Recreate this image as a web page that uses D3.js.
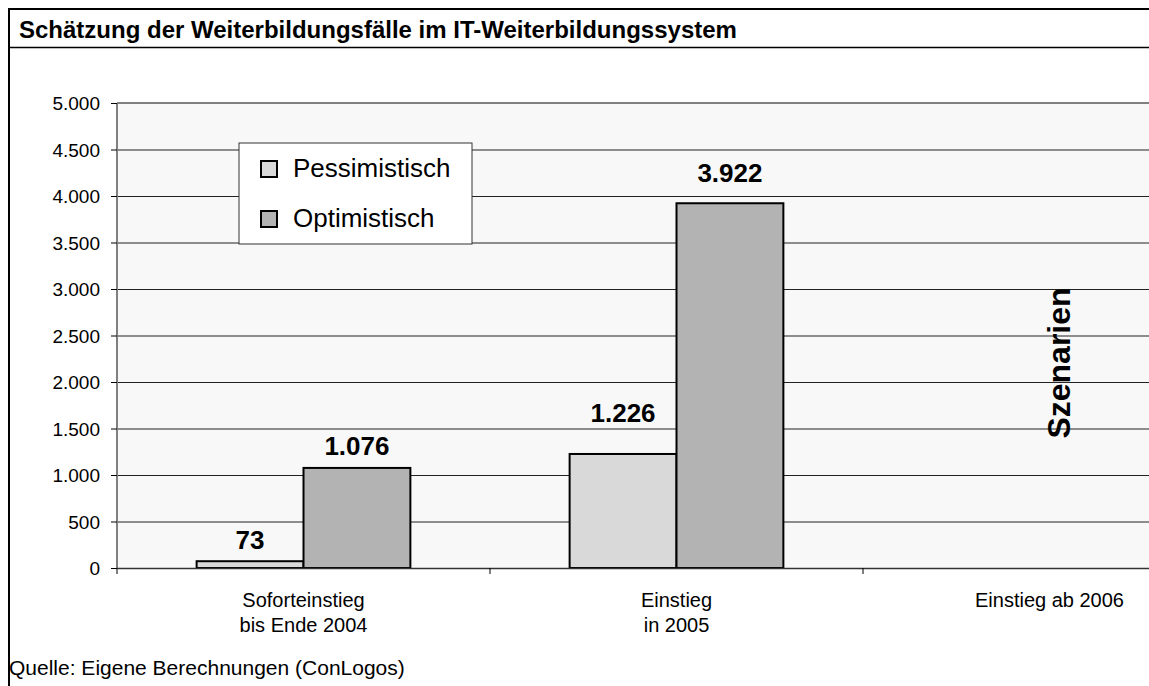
<!DOCTYPE html>
<html>
<head>
<meta charset="utf-8">
<script src="https://cdn.jsdelivr.net/npm/d3@7"></script>
<style>
  body { margin: 0; background: #fff; }
  text { font-family: "Liberation Sans", Arial, sans-serif; fill: #000; }
</style>
</head>
<body>
<div id="vis"></div>
<script>
var width = 1149;
var height = 686;

// chart data
var categories = ['Sofort', '2005', '2006'];
var categoryLabels = [['Soforteinstieg', 'bis Ende 2004'], ['Einstieg', 'in 2005'], ['Einstieg ab 2006']];
var seriesNames = ['Pessimistisch', 'Optimistisch'];
var pessimistisch = [73, 1226, null];
var optimistisch = [1076, 3922, null];
var yTicks = [0, 500, 1000, 1500, 2000, 2500, 3000, 3500, 4000, 4500, 5000];
var seriesColors = ['#d9d9d9', '#b3b3b3'];

// labels were placed by hand in the original, so lift each one a bit differently
var labelLift = [[12, 13], [32, 21], [0, 0]];

var plot = { left: 117, top: 103, bottom: 568, right: 1236 };

var svg = d3.select('#vis')
    .append('svg')
    .attr('width', width)
    .attr('height', height);

// frame round the title
svg.append('line').attr('x1', 8).attr('x2', width).attr('y1', 9).attr('y2', 9)
    .attr('stroke', '#000').attr('stroke-width', 2);
svg.append('line').attr('x1', 8).attr('x2', width).attr('y1', 47.5).attr('y2', 47.5)
    .attr('stroke', '#000').attr('stroke-width', 1.5);
svg.append('line').attr('x1', 9).attr('x2', 9).attr('y1', 8).attr('y2', height)
    .attr('stroke', '#000').attr('stroke-width', 2);

svg.append('text')
    .attr('x', 19).attr('y', 38)
    .style('font-size', '24px').style('font-weight', 'bold')
    .text('Schätzung der Weiterbildungsfälle im IT-Weiterbildungssystem');

var y = d3.scaleLinear().domain([0, 5000]).range([plot.bottom, plot.top]);
var x0 = d3.scaleBand().domain(categories).range([plot.left, plot.right]).padding(0);
var x1 = d3.scaleBand().domain(seriesNames).range([0, x0.bandwidth()]).paddingInner(0).paddingOuter(0.745);

// plot background
svg.append('rect')
    .attr('x', plot.left).attr('y', plot.top)
    .attr('width', plot.right - plot.left).attr('height', plot.bottom - plot.top)
    .attr('fill', '#f8f8f8');

// gridlines
svg.append('g').selectAll('line')
    .data(yTicks.filter(function (d) { return d > 0 && d < 5000; }))
    .enter().append('line')
    .attr('x1', plot.left).attr('x2', plot.right)
    .attr('y1', function (d) { return y(d) + 0.5; })
    .attr('y2', function (d) { return y(d) + 0.5; })
    .attr('stroke', '#222').attr('stroke-width', 1);

svg.append('line')
    .attr('x1', plot.left).attr('x2', plot.right)
    .attr('y1', plot.top).attr('y2', plot.top)
    .attr('stroke', '#808080').attr('stroke-width', 2);

// bars
var rows = categories.map(function (c, i) {
    return { cat: c, idx: i, values: [pessimistisch[i], optimistisch[i]] };
});
var groups = svg.append('g').selectAll('g')
    .data(rows)
    .enter().append('g')
    .attr('transform', function (d) { return 'translate(' + x0(d.cat) + ',0)'; });

function barData(d) {
    return d.values.map(function (v, j) {
        return { name: seriesNames[j], value: v, idx: j, lift: labelLift[d.idx][j] };
    }).filter(function (e) { return e.value !== null; });
}

groups.selectAll('rect')
    .data(barData)
    .enter().append('rect')
    .attr('x', function (d) { return x1(d.name); })
    .attr('y', function (d) { return y(d.value); })
    .attr('width', x1.bandwidth())
    .attr('height', function (d) { return y(0) - y(d.value); })
    .attr('fill', function (d) { return seriesColors[d.idx]; })
    .attr('stroke', '#000').attr('stroke-width', 2);

groups.selectAll('text.val')
    .data(barData)
    .enter().append('text')
    .attr('class', 'val')
    .attr('x', function (d) { return x1(d.name) + x1.bandwidth() / 2; })
    .attr('y', function (d) { return y(d.value) - d.lift; })
    .attr('text-anchor', 'middle')
    .style('font-size', '26px').style('font-weight', 'bold')
    .text(function (d) { return d3.format(',')(d.value).replace(/,/g, '.'); });

// y axis
var yAxis = svg.append('g')
    .attr('transform', 'translate(' + plot.left + ',0)')
    .call(d3.axisLeft(y).tickValues(yTicks).tickSize(6).tickPadding(11)
        .tickFormat(function (d) { return d3.format(',')(d).replace(/,/g, '.'); }));
yAxis.select('.domain').attr('stroke', '#808080').attr('stroke-width', 2).attr('d', 'M0,' + plot.top + 'V' + (plot.bottom + 6));
yAxis.selectAll('.tick line').attr('stroke', '#000');
yAxis.selectAll('.tick text').style('font-size', '19px').attr('dy', '0.36em')
    .style('font-family', '"Liberation Sans", Arial, sans-serif').attr('fill', '#000');

// x axis line and ticks
svg.append('line')
    .attr('x1', plot.left).attr('x2', plot.right)
    .attr('y1', plot.bottom + 0.5).attr('y2', plot.bottom + 0.5)
    .attr('stroke', '#333').attr('stroke-width', 1.5);
svg.append('g').selectAll('line')
    .data(categories)
    .enter().append('line')
    .attr('x1', function (d) { return x0(d) + x0.bandwidth(); })
    .attr('x2', function (d) { return x0(d) + x0.bandwidth(); })
    .attr('y1', plot.bottom).attr('y2', plot.bottom + 6)
    .attr('stroke', '#000');

// category labels
var catText = svg.append('g').selectAll('text')
    .data(categories)
    .enter().append('text')
    .attr('x', function (d) { return x0(d) + x0.bandwidth() / 2; })
    .attr('y', 607)
    .attr('text-anchor', 'middle')
    .style('font-size', '20px');
catText.each(function (d, i) {
    var t = d3.select(this);
    categoryLabels[i].forEach(function (line, k) {
        t.append('tspan')
            .attr('x', x0(d) + x0.bandwidth() / 2)
            .attr('dy', k === 0 ? 0 : 25)
            .text(line);
    });
});

// legend
var legend = svg.append('g').attr('transform', 'translate(239,143)');
legend.append('rect')
    .attr('width', 233).attr('height', 101)
    .attr('fill', '#fff').attr('stroke', '#333').attr('stroke-width', 1);
seriesNames.forEach(function (name, i) {
    legend.append('rect')
        .attr('x', 22).attr('y', 18 + i * 50)
        .attr('width', 16).attr('height', 16)
        .attr('fill', seriesColors[i]).attr('stroke', '#000').attr('stroke-width', 2);
    legend.append('text')
        .attr('x', 54).attr('y', 34 + i * 50)
        .style('font-size', '26px')
        .text(name);
});

// rotated label
svg.append('text')
    .attr('transform', 'translate(1070,363) rotate(-90)')
    .attr('text-anchor', 'middle')
    .style('font-size', '32px').style('font-weight', 'bold')
    .text('Szenarien');

// source
svg.append('text')
    .attr('x', 9).attr('y', 675)
    .style('font-size', '21px')
    .text('Quelle: Eigene Berechnungen (ConLogos)');
</script>
</body>
</html>
